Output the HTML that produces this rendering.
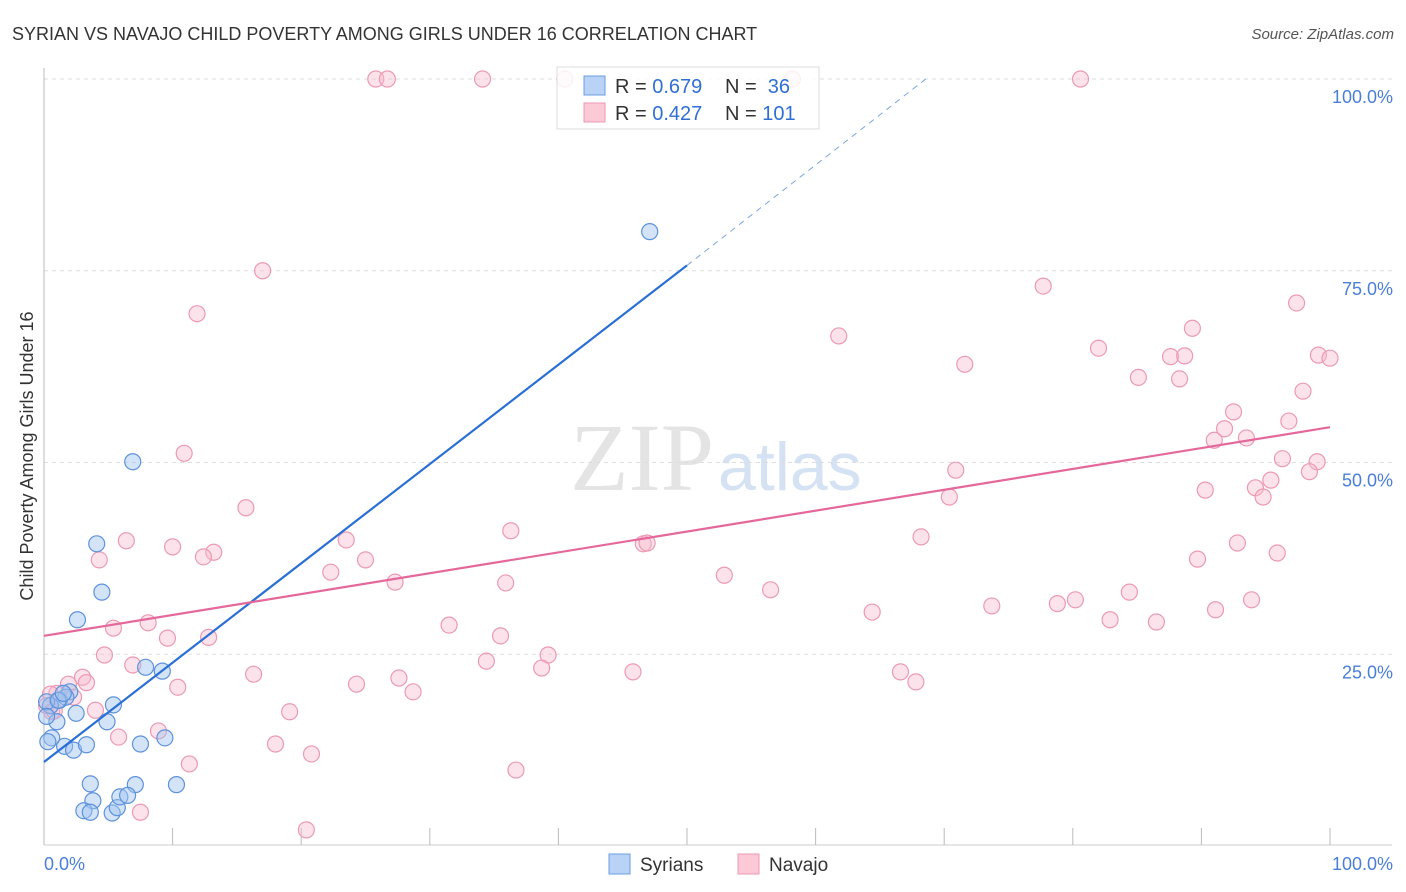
<!DOCTYPE html>
<html><head><meta charset="utf-8"><style>
body{margin:0;background:#fff;font-family:"Liberation Sans",sans-serif;}
svg{display:block}
</style></head><body>
<svg id="chart" width="1406" height="892" xmlns="http://www.w3.org/2000/svg">
<text x="12" y="40" font-size="18" fill="#333">SYRIAN VS NAVAJO CHILD POVERTY AMONG GIRLS UNDER 16 CORRELATION CHART</text>
<text x="1394" y="39" font-size="15" fill="#555" font-style="italic" text-anchor="end">Source: ZipAtlas.com</text>
<text transform="translate(33,456) rotate(-90)" font-size="18" fill="#333" text-anchor="middle">Child Poverty Among Girls Under 16</text>
<text x="714" y="490" font-size="96" fill="#e4e4e4" font-family="Liberation Serif,serif" text-anchor="end">ZIP</text>
<text x="718" y="490" font-size="68" fill="#d5e2f3" text-anchor="start">atlas</text>
<g id="grid"></g><g id="axes"></g><g id="pink"></g><g id="blue"></g><g id="lines"></g>
<g>
<rect x="557" y="67" width="262" height="62" fill="#fff" fill-opacity="0.85" stroke="#ddd"/>
<rect x="584" y="76" width="21" height="19" fill="#b8d3f5" stroke="#6c9ee0"/>
<rect x="584" y="103" width="21" height="19" fill="#fcc9d7" stroke="#ee98b3"/>
<text x="615" y="93" font-size="20" fill="#333">R = <tspan fill="#2f6fd6">0.679</tspan></text>
<text x="725" y="93" font-size="20" fill="#333">N = <tspan fill="#2f6fd6">&#160;36</tspan></text>
<text x="615" y="120" font-size="20" fill="#333">R = <tspan fill="#2f6fd6">0.427</tspan></text>
<text x="725" y="120" font-size="20" fill="#333">N = <tspan fill="#2f6fd6">101</tspan></text>
</g>
<g>
<rect x="609" y="854" width="21" height="20" fill="#b8d3f5" stroke="#6c9ee0"/>
<text x="640" y="871" font-size="19" fill="#333">Syrians</text>
<rect x="738" y="854" width="21" height="20" fill="#fcc9d7" stroke="#ee98b3"/>
<text x="769" y="871" font-size="19" fill="#333">Navajo</text>
</g>
</svg>
<script>
const blueX=[47.1,6.9,4.1,4.5,2.6,7.9,9.2,5.4,4.9,2.5,1.0,2.0,1.2,1.7,0.5,0.6,0.3,1.6,2.3,3.3,7.5,9.4,3.6,7.1,10.3,3.8,3.1,3.6,5.3,5.7,5.9,6.5,0.2,0.2,1.1,1.5];
const blueY=[80.1,50.1,39.4,33.1,29.5,23.3,22.8,18.4,16.2,17.3,16.2,20.1,19.0,19.4,18.3,14.1,13.6,13.0,12.5,13.2,13.3,14.1,8.1,8.0,8.0,5.9,4.6,4.4,4.3,5.0,6.4,6.6,18.8,16.9,19.0,19.9];
const pinkX=[25.8,26.7,34.1,40.5,58.2,80.6,17.0,11.9,61.8,77.7,97.4,89.3,82.0,71.6,87.6,88.7,99.1,100,85.1,88.3,97.9,92.5,96.8,91.8,91.0,93.5,10.9,70.9,96.3,99.0,98.4,95.4,94.2,94.8,90.3,70.4,15.7,36.3,68.2,6.4,10.0,13.2,12.4,4.3,23.5,25.0,46.6,46.9,92.8,95.9,89.7,52.9,22.3,27.3,35.9,56.5,64.4,73.7,78.8,80.2,84.4,93.9,91.1,82.9,86.5,8.1,5.4,31.5,12.8,9.6,35.5,4.7,39.2,6.9,38.7,34.4,45.8,66.6,16.3,27.6,24.3,67.8,28.7,10.4,3.0,3.3,1.9,1.0,2.3,0.5,0.2,0.6,4.0,19.1,5.8,8.9,18.0,20.8,11.3,36.7,7.5,20.4,0.8];
const pinkY=[100,100,100,100,100,100,75.0,69.4,66.5,73.0,70.8,67.5,64.9,62.8,63.8,63.9,64.0,63.6,61.1,60.9,59.3,56.6,55.4,54.4,52.9,53.2,51.2,49.0,50.5,50.1,48.8,47.7,46.7,45.5,46.4,45.5,44.1,41.1,40.3,39.8,39.0,38.3,37.7,37.3,39.9,37.3,39.4,39.5,39.5,38.2,37.4,35.3,35.7,34.4,34.3,33.4,30.5,31.3,31.6,32.1,33.1,32.1,30.8,29.5,29.2,29.1,28.4,28.8,27.2,27.1,27.4,24.9,24.9,23.6,23.2,24.1,22.7,22.7,22.4,21.9,21.1,21.4,20.1,20.7,22.0,21.3,21.1,19.9,19.4,19.8,18.3,17.5,17.7,17.5,14.2,15.0,13.3,12.0,10.7,9.9,4.4,2.1,17.6];
const blueLine=[10.95,75.7]; // y at x=0 and x=50
const pinkLine=[27.4,54.6]; // y at x=0 and x=100
const yTicks=[25,50,75,100];
const xTicks=[10,20,30,40,50,60,70,80,90,100];
const NS='http://www.w3.org/2000/svg';
const sx=v=>44+v*12.86, sy=v=>846-v*7.67;
function mk(parent,tag,attrs){const e=document.createElementNS(NS,tag);for(const k in attrs)e.setAttribute(k,attrs[k]);document.getElementById(parent).appendChild(e);return e;}
yTicks.forEach(t=>{
 const g=mk('grid','line',{x1:44,x2:1392,y1:sy(t),y2:sy(t),stroke:'#ddd','stroke-dasharray':'4,4'});
 
 
 const l=mk('grid','text',{x:1393,y:sy(t)+24,'font-size':18,fill:'#4a7fd8','text-anchor':'end'});
 l.textContent=t.toFixed(1)+'%';
 
 
});
const ax=mk('axes','line',{x1:44,x2:44,y1:68,y2:845,stroke:'#bbb'});


const bx=mk('axes','line',{x1:44,x2:1392,y1:845,y2:845,stroke:'#ccc'});


xTicks.forEach(t=>{
 const k=mk('axes','line',{x1:sx(t),x2:sx(t),y1:828,y2:845,stroke:'#bbb'});
 
 
});
const x0=mk('axes','text',{x:44,y:870,'font-size':18,fill:'#4a7fd8'});x0.textContent='0.0%';


const x1=mk('axes','text',{x:1393,y:870,'font-size':18,fill:'#4a7fd8','text-anchor':'end'});x1.textContent='100.0%';


pinkX.forEach((x,i)=>{
 const c=mk('pink','circle',{cx:sx(x),cy:sy(pinkY[i]),r:8,fill:'rgba(248,185,205,0.42)',stroke:'#ec9ab4','stroke-width':1.2});
 
 
});
blueX.forEach((x,i)=>{
 const c=mk('blue','circle',{cx:sx(x),cy:sy(blueY[i]),r:8,fill:'rgba(160,196,240,0.45)',stroke:'#5d92dc','stroke-width':1.2});
 
 
});
const slope=(blueLine[1]-blueLine[0])/50;
const xEnd=(100-blueLine[0])/slope;
const bl=mk('lines','line',{x1:sx(0),y1:sy(blueLine[0]),x2:sx(50),y2:sy(blueLine[1]),stroke:'#2a6fd6','stroke-width':2.2});


const bd=mk('lines','line',{x1:sx(50),y1:sy(blueLine[1]),x2:sx(xEnd),y2:sy(100)-2,stroke:'#7aa5e6','stroke-width':1,'stroke-dasharray':'6,5'});


const pl=mk('lines','line',{x1:sx(0),y1:sy(pinkLine[0]),x2:sx(100),y2:sy(pinkLine[1]),stroke:'#e4689a','stroke-width':2.2});


</script>
</body></html>
